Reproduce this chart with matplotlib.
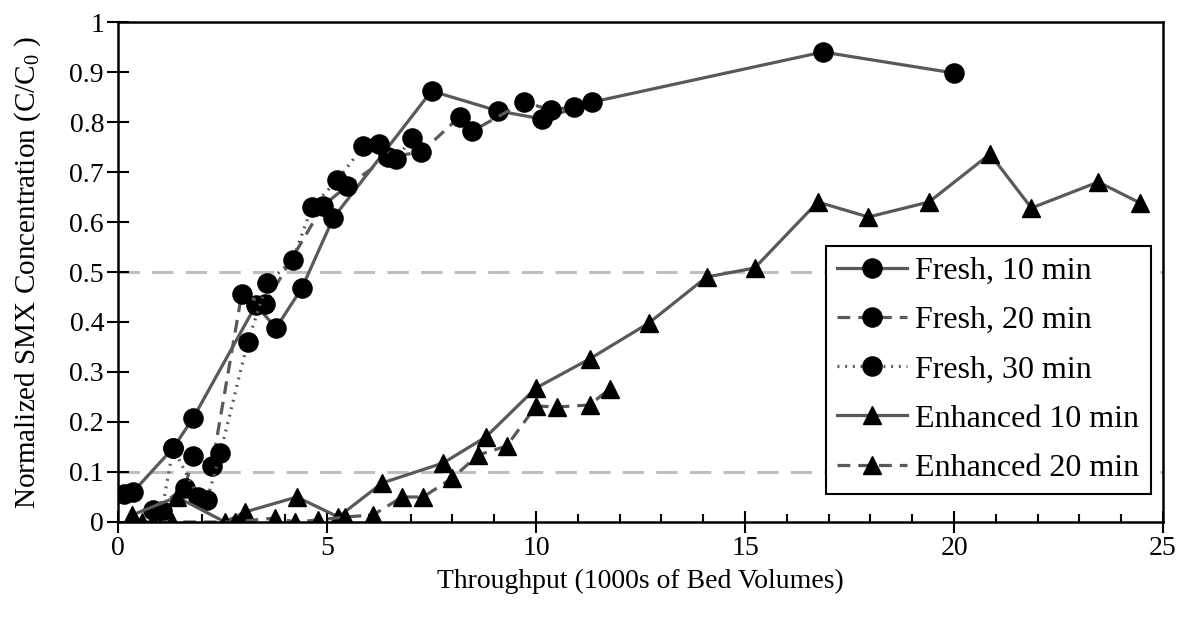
import matplotlib
matplotlib.use("Agg")
import matplotlib.pyplot as plt
from matplotlib.ticker import MultipleLocator, FuncFormatter

plt.rcParams['font.family'] = ['Liberation Serif', 'DejaVu Serif']
plt.rcParams['mathtext.fontset'] = 'custom'
plt.rcParams['mathtext.rm'] = 'Liberation Serif'
plt.rcParams['mathtext.it'] = 'Liberation Serif:italic'

# Breakthrough data: throughput (1000s of BV) and normalized SMX C/C0
fresh10_x = [0.15, 0.36, 1.32, 1.80, 3.30, 3.78, 4.40, 5.15, 7.50, 9.10, 10.15, 11.35, 16.86, 20.0]
fresh10_y = [0.055, 0.060, 0.148, 0.208, 0.434, 0.388, 0.468, 0.608, 0.862, 0.822, 0.806, 0.840, 0.940, 0.898]

fresh20_x = [0.84, 1.60, 1.80, 2.25, 2.96, 3.52, 4.90, 5.48, 6.47, 7.26, 8.17, 8.48, 9.72, 10.35, 10.90]
fresh20_y = [0.024, 0.068, 0.132, 0.112, 0.456, 0.436, 0.632, 0.672, 0.730, 0.740, 0.810, 0.782, 0.840, 0.824, 0.830]

fresh30_x = [1.05, 1.32, 1.92, 2.13, 2.45, 3.10, 3.57, 4.18, 4.64, 5.25, 5.87, 6.25, 6.65, 7.04]
fresh30_y = [0.022, 0.148, 0.050, 0.044, 0.138, 0.359, 0.478, 0.524, 0.630, 0.684, 0.752, 0.756, 0.726, 0.768]

enh10_x = [0.34, 1.41, 2.56, 3.04, 4.28, 5.27, 6.32, 7.78, 8.80, 10.0, 11.28, 12.70, 14.08,
           15.23, 16.74, 17.95, 19.40, 20.86, 21.85, 23.45, 24.45]
enh10_y = [0.014, 0.050, 0.0, 0.020, 0.050, 0.010, 0.078, 0.118, 0.170, 0.268, 0.326, 0.398, 0.490,
           0.508, 0.640, 0.610, 0.640, 0.736, 0.628, 0.680, 0.638]

enh20_x = [0.57, 0.85, 1.30, 2.80, 3.76, 4.24, 4.79, 5.44, 6.10, 6.80, 7.30, 8.00, 8.62, 9.30,
           10.0, 10.50, 11.28, 11.76]
enh20_y = [0.0, 0.0, 0.0, 0.0, 0.008, 0.0, 0.004, 0.010, 0.014, 0.050, 0.050, 0.088, 0.134, 0.152,
           0.232, 0.230, 0.234, 0.266]

line_col = '#595959'

fig = plt.figure(figsize=(11.82, 6.24), dpi=100)
ax = fig.add_axes([0.0998, 0.1635, 0.8842, 0.8012])

# Excel-style guide lines at 0.1 and 0.5
for g in (0.1, 0.5):
    ax.axhline(g, color='#BFBFBF', lw=2.2, ls=(0, (7, 4)), zorder=0)

mk = dict(color=line_col, markeredgecolor='black', markerfacecolor='black')
ax.plot(fresh10_x, fresh10_y, '-', marker='o', ms=13.8, lw=2.3, label='Fresh, 10 min', **mk)
ax.plot(fresh20_x, fresh20_y, ls=(0, (4, 2.5)), marker='o', ms=13.8, lw=2.3, label='Fresh, 20 min', **mk)
ax.plot(fresh30_x, fresh30_y, ls=(0, (0.6, 1.8)), marker='o', ms=13.8, lw=2.3, label='Fresh, 30 min', **mk)
ax.plot(enh10_x, enh10_y, '-', marker='^', ms=13, lw=2.3, label='Enhanced 10 min', **mk)
ax.plot(enh20_x, enh20_y, ls=(0, (4, 2.5)), marker='^', ms=13, lw=2.3, label='Enhanced 20 min', **mk)

ax.set_xlim(0, 25)
ax.set_ylim(0, 1)
ax.xaxis.set_major_locator(MultipleLocator(5))
ax.xaxis.set_minor_locator(MultipleLocator(1))
ax.yaxis.set_major_locator(MultipleLocator(0.1))
ax.yaxis.set_major_formatter(FuncFormatter(lambda v, p: f'{v:.1f}'.rstrip('0').rstrip('.') if v else '0'))

ax.tick_params(axis='x', which='major', direction='inout', length=16, width=1.5, labelsize=20, pad=2)
ax.tick_params(axis='x', which='minor', direction='in', length=6, width=1.5)
ax.tick_params(axis='y', which='major', direction='inout', length=16, width=1.5, labelsize=20, pad=2)
for s in ax.spines.values():
    s.set_linewidth(1.8)
    s.set_color('black')

ax.set_xlabel('Throughput (1000s of Bed Volumes)', fontsize=20, labelpad=6)
ax.set_ylabel('Normalized SMX Concentration (C/C$_0$ )', fontsize=21, labelpad=19)

leg = ax.legend(loc='lower right', bbox_to_anchor=(0.988, 0.056), fontsize=23, frameon=True,
                fancybox=False, edgecolor='black', handlelength=2.2, handletextpad=0.25,
                labelspacing=0.62, borderpad=0.35, borderaxespad=0)
leg.get_frame().set_linewidth(1.5)
leg.get_frame().set_alpha(1)

fig.savefig('out.png', dpi=100)
